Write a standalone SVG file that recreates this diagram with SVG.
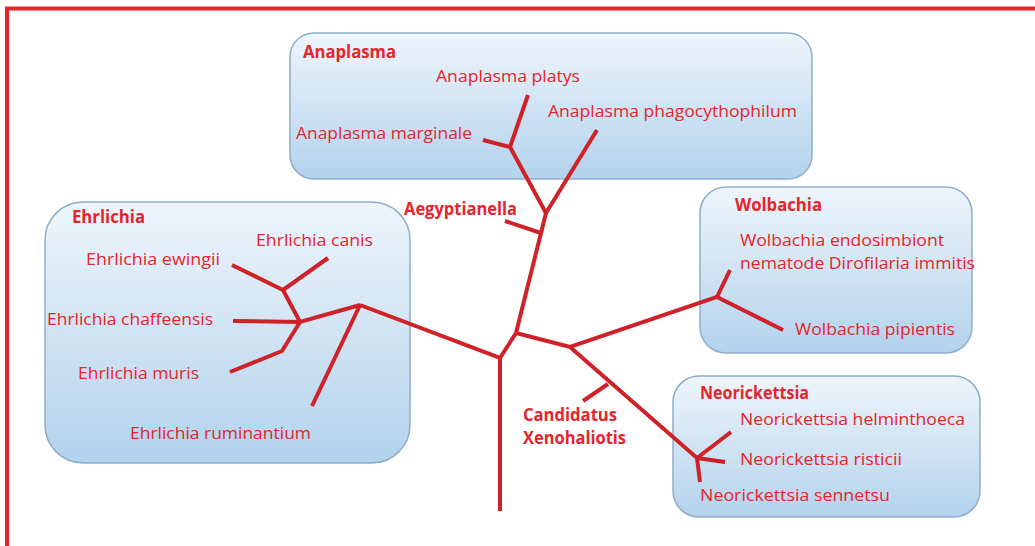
<svg xmlns="http://www.w3.org/2000/svg" width="1035" height="546" viewBox="0 0 1035 546">
<defs>
<linearGradient id="g" x1="0" y1="0" x2="0" y2="1">
<stop offset="0" stop-color="#eef5fb"/>
<stop offset="1" stop-color="#b3d2ec"/>
</linearGradient>
<style>
.box{fill:url(#g);stroke:#8eaecb;stroke-width:1.5}
.t{font-family:"Open Sans","Liberation Sans",sans-serif;font-size:17px;fill:#e5252b}
.b{font-weight:bold}
.br{fill:none;stroke:#cf2128;stroke-width:4;stroke-linecap:butt;stroke-linejoin:miter}
</style>
</defs>
<rect width="1035" height="546" fill="#ffffff"/>
<path d="M7 546 V8.5 H1035" fill="none" stroke="#e4252b" stroke-width="4"/>
<g id="anaplasma">
<rect class="box" x="290" y="33" width="522" height="146" rx="24"/>
<text class="t b" x="303" y="58" textLength="93" lengthAdjust="spacingAndGlyphs">Anaplasma</text>
<text class="t" x="436" y="82" textLength="144" lengthAdjust="spacingAndGlyphs">Anaplasma platys</text>
<text class="t" x="548" y="117" textLength="249" lengthAdjust="spacingAndGlyphs">Anaplasma phagocythophilum</text>
<text class="t" x="296" y="139" textLength="176" lengthAdjust="spacingAndGlyphs">Anaplasma marginale</text>
</g>
<g id="ehrlichia">
<rect class="box" x="45" y="202" width="365" height="261" rx="38"/>
<text class="t b" x="72" y="223" textLength="73" lengthAdjust="spacingAndGlyphs">Ehrlichia</text>
<text class="t" x="256" y="246" textLength="117" lengthAdjust="spacingAndGlyphs">Ehrlichia canis</text>
<text class="t" x="86" y="265" textLength="134" lengthAdjust="spacingAndGlyphs">Ehrlichia ewingii</text>
<text class="t" x="47" y="325" textLength="166" lengthAdjust="spacingAndGlyphs">Ehrlichia chaffeensis</text>
<text class="t" x="78" y="379" textLength="121" lengthAdjust="spacingAndGlyphs">Ehrlichia muris</text>
<text class="t" x="130" y="439" textLength="181" lengthAdjust="spacingAndGlyphs">Ehrlichia ruminantium</text>
</g>
<g id="wolbachia">
<rect class="box" x="700" y="187" width="272" height="166" rx="26"/>
<text class="t b" x="735" y="211" textLength="87" lengthAdjust="spacingAndGlyphs">Wolbachia</text>
<text class="t" x="740" y="246" textLength="204" lengthAdjust="spacingAndGlyphs">Wolbachia endosimbiont</text>
<text class="t" x="740" y="269" textLength="235" lengthAdjust="spacingAndGlyphs">nematode Dirofilaria immitis</text>
<text class="t" x="795" y="335" textLength="160" lengthAdjust="spacingAndGlyphs">Wolbachia pipientis</text>
</g>
<g id="neorickettsia">
<rect class="box" x="673" y="376" width="307" height="141" rx="26"/>
<text class="t b" x="700" y="399" textLength="109" lengthAdjust="spacingAndGlyphs">Neorickettsia</text>
<text class="t" x="740" y="425" textLength="225" lengthAdjust="spacingAndGlyphs">Neorickettsia helminthoeca</text>
<text class="t" x="740" y="465" textLength="162" lengthAdjust="spacingAndGlyphs">Neorickettsia risticii</text>
<text class="t" x="700" y="501" textLength="190" lengthAdjust="spacingAndGlyphs">Neorickettsia sennetsu</text>
</g>
<g id="aegyptianella">
<text class="t b" x="404" y="215" textLength="113" lengthAdjust="spacingAndGlyphs">Aegyptianella</text>
</g>
<g id="candidatus">
<text class="t b" x="523" y="421" textLength="94" lengthAdjust="spacingAndGlyphs">Candidatus</text>
<text class="t b" x="523" y="444" textLength="103" lengthAdjust="spacingAndGlyphs">Xenohaliotis</text>
</g>
<g id="connectors">
<path class="br" d="M500 511 V358 L360 305"/>
<path class="br" d="M500 358 L516 333 L546 213 L510 147 L483 140"/>
<path class="br" d="M510 147 L528 95"/>
<path class="br" d="M546 213 L597 130"/>
<path class="br" d="M541 233 L505 221"/>
<path class="br" d="M516 333 L570 347 L717 297 L730 270"/>
<path class="br" d="M717 297 L783 330"/>
<path class="br" d="M570 347 L697 458 L731 432"/>
<path class="br" d="M697 458 L725 462"/>
<path class="br" d="M697 458 L700 482"/>
<path class="br" d="M608 384 L583 401"/>
<path class="br" d="M360 305 L312 406"/>
<path class="br" d="M360 305 L300 322 L283 290 L232 265"/>
<path class="br" d="M283 290 L328 258"/>
<path class="br" d="M300 322 L233 321"/>
<path class="br" d="M300 322 L282 351 L230 372"/>
</g>
</svg>
